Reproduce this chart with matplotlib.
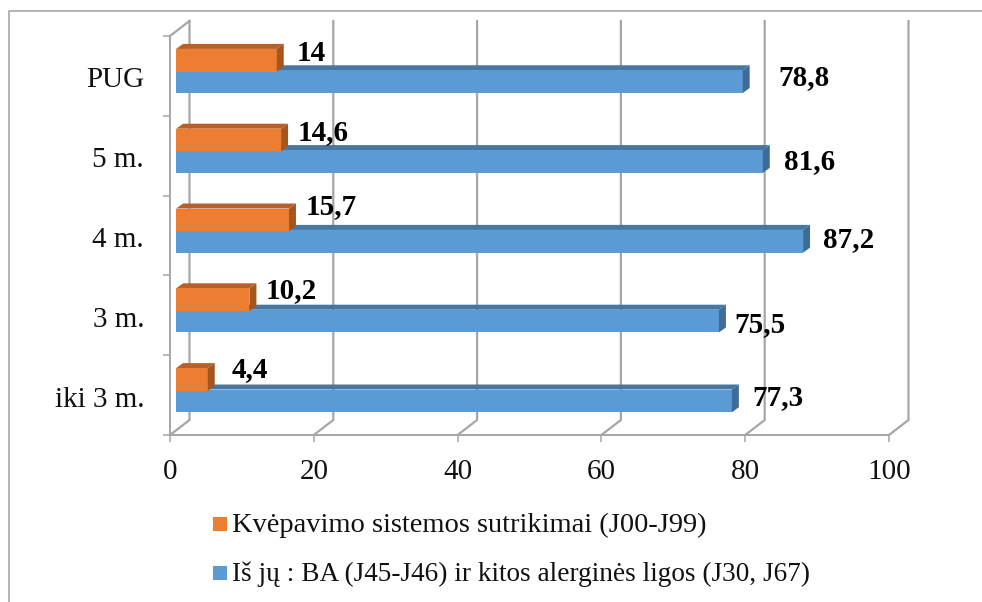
import matplotlib
matplotlib.use("Agg")
import matplotlib.pyplot as plt
from matplotlib.patches import Polygon

plt.rcParams["font.family"] = ["Liberation Serif", "DejaVu Serif"]

# data
categories = ["iki 3 m.", "3 m.", "4 m.", "5 m.", "PUG"]
respiratory = [4.4, 10.2, 15.7, 14.6, 14]
allergic = [77.3, 75.5, 87.2, 81.6, 78.8]
x_ticks = [0, 20, 40, 60, 80, 100]
series_names = [
    "Kvėpavimo sistemos sutrikimai (J00-J99)",
    "Iš jų : BA (J45-J46) ir kitos alerginės ligos (J30, J67)",
]

# hand placed data labels, pixels from the end of each bar
resp_label_off = [(42, 10), (42, 9), (42, 13), (42, 8), (34, 7)]
allergic_label_off = [(46, 3), (41, -3), (46, 2), (47, 0), (61, 4)]

# colours
ORANGE, ORANGE_TOP, ORANGE_SIDE = "#ed7d31", "#b8602a", "#a5561f"
BLUE, BLUE_TOP, BLUE_SIDE = "#5b9bd5", "#4677a3", "#3f6c96"
GREY = "#a6a6a6"

# pseudo 3d layout, in data units
WALL_DX, WALL_DY = 2.71, 0.188
BAR_DX, BAR_DY = 0.97, 0.063
BAR_LEFT = 0.85
ALLERGIC_Y, RESP_Y, BAR_H = 0.285, 0.553, 0.285

W, H = 982, 602


def bar_3d(ax, y, value, height, front, top, side):
    ax.barh(y, value, height=height, left=BAR_LEFT, align="edge", color=front, zorder=4)
    end = BAR_LEFT + value
    ax.add_patch(Polygon(
        [(BAR_LEFT, y + height), (end, y + height),
         (end + BAR_DX, y + height + BAR_DY), (BAR_LEFT + BAR_DX, y + height + BAR_DY)],
        color=top, lw=0, zorder=3, clip_on=False))
    ax.add_patch(Polygon(
        [(end, y), (end + BAR_DX, y + BAR_DY),
         (end + BAR_DX, y + height + BAR_DY), (end, y + height)],
        color=side, lw=0, zorder=4, clip_on=False))


def main():
    fig = plt.figure(figsize=(W / 100, H / 100), dpi=100)
    fig.add_artist(plt.Line2D([9 / W, 9 / W, 1], [0, 1 - 11 / H, 1 - 11 / H], color="#a0a0a0", lw=1.1))

    ax = fig.add_axes([170 / W, 1 - 435 / H, 719 / W, 399 / H])
    ax.set_xlim(0, 100)
    ax.set_ylim(0, len(categories))
    ax.patch.set_visible(False)

    for s in ["top", "right"]:
        ax.spines[s].set_visible(False)
    for s in ["left", "bottom"]:
        ax.spines[s].set_color(GREY)
        ax.spines[s].set_linewidth(1.4)

    # back wall grid and floor diagonals
    top = len(categories)
    for v in x_ticks:
        ax.plot([v, v + WALL_DX, v + WALL_DX], [0, WALL_DY, top + WALL_DY],
                color=GREY, lw=1.6, zorder=1, clip_on=False, solid_joinstyle="miter")
    ax.plot([0, WALL_DX], [top, top + WALL_DY], color=GREY, lw=1.6, zorder=1, clip_on=False)

    for i in range(len(categories)):
        bar_3d(ax, i + ALLERGIC_Y, allergic[i], BAR_H, BLUE, BLUE_TOP, BLUE_SIDE)
    for i in range(len(categories)):
        bar_3d(ax, i + RESP_Y, respiratory[i], BAR_H, ORANGE, ORANGE_TOP, ORANGE_SIDE)

    for i, cat in enumerate(categories):
        ax.annotate(f"{respiratory[i]:g}".replace(".", ","),
                    (BAR_LEFT + respiratory[i], i + RESP_Y + BAR_H / 2),
                    xytext=resp_label_off[i], textcoords="offset pixels",
                    ha="center", va="center", fontsize=21, fontweight="bold", zorder=6)
        ax.annotate(f"{allergic[i]:g}".replace(".", ","),
                    (BAR_LEFT + allergic[i], i + ALLERGIC_Y + BAR_H / 2),
                    xytext=allergic_label_off[i], textcoords="offset pixels",
                    ha="center", va="center", fontsize=21, fontweight="bold", zorder=6)

    ax.set_xticks(x_ticks)
    ax.set_xticklabels([str(v) for v in x_ticks], fontsize=21)
    ax.tick_params(axis="x", length=5, width=1.1, color=GREY, pad=12, labelcolor="#111111")
    ax.set_yticks(range(len(categories) + 1))
    ax.set_yticklabels([])
    ax.tick_params(axis="y", length=5, width=1.1, color=GREY)
    ax.set_yticks([i + 0.48 for i in range(len(categories))], minor=True)
    ax.set_yticklabels(categories, minor=True, fontsize=21, color="#111111")
    ax.tick_params(axis="y", which="minor", length=0, pad=18.7)

    # legend
    for y_px, col, name, size in zip([524, 573], [ORANGE, BLUE], series_names, [20.5, 19.6]):
        fig.patches.append(plt.Rectangle((213 / W, 1 - (y_px + 7) / H), 14 / W, 14 / H,
                                         transform=fig.transFigure, color=col, lw=0))
        fig.text(232 / W, 1 - (y_px - 2) / H, name, fontsize=size, va="center_baseline", color="#111111")

    fig.savefig("out.png", dpi=100)
    plt.close(fig)


if __name__ == "__main__":
    main()
